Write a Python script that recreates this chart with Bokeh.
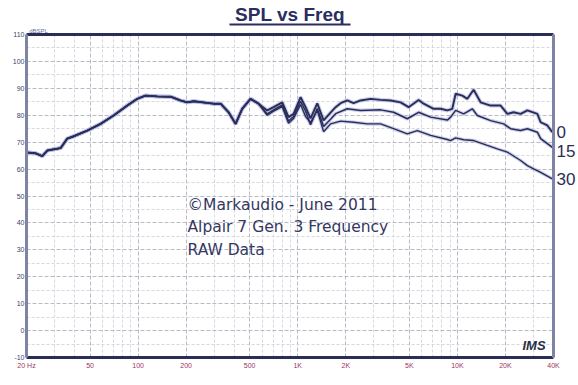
from bokeh.plotting import figure
from bokeh.models import FixedTicker, LinearAxis, LogAxis, Label, Title
from bokeh.embed import file_html
from bokeh.resources import INLINE

# ---- data ----
shared_freq = [20, 22.7, 25.1, 27.0, 32.7, 36.0, 39.6, 48.0, 58.2, 70.2, 85.5, 98.8, 111, 132,
               160, 184, 203, 223, 297, 329, 369, 408, 449, 506, 568]
shared_spl = [66.2, 65.9, 64.8, 66.9, 67.8, 71.3, 72.2, 74.3, 76.8, 79.9, 83.6, 86.1, 87.3, 87.0,
              86.9, 85.5, 84.8, 85.2, 84.3, 84.3, 81.1, 76.8, 82.4, 86.1, 84.3]

freq_0 = [644, 706, 800, 876, 942, 1042, 1120, 1203, 1326, 1452, 1606, 1727, 1856, 2044, 2238,
          2476, 2860, 3304, 3818, 4410, 4950, 5716, 6146, 7098, 7852, 8650, 9296, 9750, 10740,
          11540, 12640, 13980, 16150, 18660, 20560, 22520, 24900, 27440, 31700, 33240, 36600, 39340]
spl_0 = [81.8, 83.0, 84.8, 79.3, 80.5, 86.7, 83.0, 78.8, 84.4, 78.1, 81.0, 83.0, 84.5, 85.5, 84.5,
         85.5, 86.1, 85.7, 85.5, 84.8, 83.0, 85.7, 84.3, 82.4, 82.4, 81.8, 82.4, 88.0, 87.3,
         86.1, 89.5, 84.8, 83.6, 83.6, 80.5, 81.1, 80.5, 81.8, 80.5, 77.4, 76.2, 73.7]

freq_15 = [644, 706, 800, 876, 942, 1042, 1120, 1203, 1326, 1452, 1606, 1727, 2044, 2476, 3304,
           3986, 4856, 5716, 6798, 8650, 9072, 9750, 10944, 12406, 13336, 16150, 19486, 21560,
           24900, 27440, 31700, 33240, 39340]
spl_15 = [80.5, 82.0, 83.8, 77.8, 79.5, 85.2, 81.5, 76.5, 82.5, 75.8, 78.5, 80.6, 82.4, 81.8, 82.0,
          81.1, 78.7, 81.1, 79.3, 78.2, 79.3, 81.8, 80.5, 82.4, 79.9, 78.0, 76.8, 75.0,
          74.3, 75.0, 73.7, 71.3, 68.1]

freq_30 = [644, 706, 800, 876, 942, 1042, 1120, 1203, 1326, 1452, 1606, 1856, 2238, 2727, 3304,
           3986, 4856, 5610, 6798, 8650, 9072, 9750, 10944, 12642, 15402, 17790, 20560, 24900,
           27440, 30040, 33240, 39340]
spl_30 = [80.0, 81.5, 83.2, 77.0, 78.8, 84.0, 79.5, 77.3, 81.8, 73.9, 76.8, 77.8, 77.4, 76.8, 76.8,
          75.0, 73.1, 74.3, 72.5, 71.0, 70.6, 71.6, 70.9, 70.6, 68.8, 67.5, 66.3, 63.2,
          61.3, 60.1, 58.8, 56.4]

curve_names = ["0", "15", "30"]
curve_label_levels = [73.6, 66.9, 56.5]

x_ticks = [20, 50, 100, 200, 500, 1000, 2000, 5000, 10000, 20000, 40000]
x_tick_labels = ["20 Hz", "50", "100", "200", "500", "1K", "2K", "5K", "10K", "20K", "40K"]
x_minor = [30, 40, 60, 70, 80, 90, 300, 400, 600, 700, 800, 900, 3000, 4000, 6000, 7000, 8000,
           9000, 30000]
y_ticks = [-10, 0, 10, 20, 30, 40, 50, 60, 70, 80, 90, 100, 110]
y_minor = [-5, 5, 15, 25, 35, 45, 55, 65, 75, 85, 95, 105]

notes = ["\u00a9Markaudio - June 2011", "Alpair 7 Gen. 3 Frequency", "RAW Data"]

NAVY = "#2a2d55"
GRAYBLUE = "#7f84a6"

p = figure(width=578, height=385, x_axis_type="log", x_range=(20, 40000), y_range=(-10, 110),
           output_backend="svg", toolbar_location=None, title=None,
           min_border_left=26, min_border_right=24, min_border_top=34, min_border_bottom=28)
p.outline_line_color = None
p.background_fill_color = "white"

xt = FixedTicker(ticks=x_ticks, minor_ticks=x_minor)
yt = FixedTicker(ticks=y_ticks, minor_ticks=y_minor)
p.xaxis.ticker = xt
p.yaxis.ticker = yt
p.xgrid.ticker = xt
p.ygrid.ticker = yt
p.xaxis.major_label_overrides = {t: l for t, l in zip(x_ticks, x_tick_labels)}
p.yaxis.major_label_overrides = {t: str(t) for t in y_ticks}


def bare(ax):
    ax.major_tick_line_color = None
    ax.minor_tick_line_color = None
    ax.major_tick_out = 0
    ax.major_tick_in = 0
    ax.minor_tick_out = 0
    ax.minor_tick_in = 0


for ax in (p.xaxis[0], p.yaxis[0]):
    bare(ax)
    ax.major_label_text_font = "Liberation Sans"
    ax.major_label_text_font_size = "7px"
p.xaxis.major_label_standoff = 4
p.yaxis.major_label_standoff = 2
p.xaxis.major_label_text_color = "#9a3560"
p.yaxis.major_label_text_color = "#3c4070"
p.xaxis.axis_line_color = NAVY
p.xaxis.axis_line_width = 3
p.yaxis.axis_line_color = GRAYBLUE
p.yaxis.axis_line_width = 3

# top frame edge, carrying the "dBSPL" unit text
top_ax = LogAxis(ticker=FixedTicker(ticks=[23.8]), major_label_overrides={23.8: "dBSPL"},
                 axis_line_color=NAVY, axis_line_width=3, major_label_standoff=1,
                 major_label_text_font="Liberation Sans", major_label_text_font_size="6px",
                 major_label_text_color="#6a6e99")
bare(top_ax)
p.add_layout(top_ax, "above")

# underline of the title (axis line limited by bounds)
uline_ax = LogAxis(ticker=FixedTicker(ticks=[]), bounds=(375, 2150), axis_line_color="#2b2e60",
                   axis_line_width=2, major_label_standoff=0)
bare(uline_ax)
p.add_layout(uline_ax, "above")

p.title = Title(text="SPL vs Freq", align="center", text_font="Liberation Sans",
                text_font_style="bold", text_font_size="19px", text_color="#2b2e60",
                standoff=0, offset=0)

# right frame edge, carrying the curve names
right_ax = LinearAxis(ticker=FixedTicker(ticks=curve_label_levels),
                      major_label_overrides={v: n for v, n in zip(curve_label_levels, curve_names)},
                      axis_line_color=GRAYBLUE, axis_line_width=3, major_label_standoff=3,
                      major_label_text_font="Liberation Sans", major_label_text_font_size="17px",
                      major_label_text_color=NAVY)
bare(right_ax)
p.add_layout(right_ax, "right")

for g in (p.xgrid[0], p.ygrid[0]):
    g.grid_line_color = "#b9bac6"
    g.grid_line_dash = "4 2"
    g.grid_line_width = 1
    g.minor_grid_line_color = "#d6d7df"
    g.minor_grid_line_dash = "3 2"
    g.minor_grid_line_width = 1

curves = [
    (shared_freq + freq_0, shared_spl + spl_0, 1.9),
    (shared_freq + freq_15, shared_spl + spl_15, 1.5),
    (shared_freq + freq_30, shared_spl + spl_30, 1.4),
]
for fx, sy, w in curves:
    p.line(fx, sy, line_color="#aab0e2", line_width=w + 2.2, line_alpha=0.6)
for fx, sy, w in curves:
    p.line(fx, sy, line_color=NAVY, line_width=w)

for txt, yv in zip(notes, [46.5, 38.3, 29.8]):
    p.add_layout(Label(x=204, y=yv, text=txt, text_baseline="middle", text_font="DejaVu Sans",
                       text_font_size="15.5px", text_color="#34375f"))

p.add_layout(Label(x=40000, y=-5.5, x_offset=-31, text="IMS", text_baseline="middle",
                   text_font="Liberation Sans", text_font_style="bold italic",
                   text_font_size="13px", text_color="#2a2d45"))

open("out.html", "w").write(file_html(p, INLINE))
